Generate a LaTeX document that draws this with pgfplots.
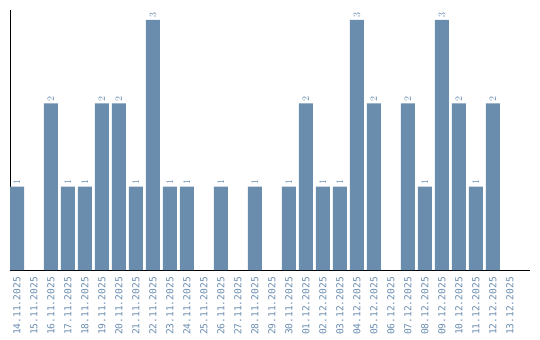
\documentclass[border=0pt]{standalone}
\usepackage{pgfplots}
\pgfplotsset{compat=1.18}
\usepackage{fontspec}
\setmonofont{DejaVu Sans Mono}
\definecolor{barc}{HTML}{6A8CAD}
\definecolor{labc}{HTML}{6A8CAF}
\begin{document}
\begin{tikzpicture}
\path (-10bp,-70bp) rectangle (530bp,270bp);
\begin{axis}[
  at={(0,0)}, anchor=south west,
  scale only axis, width=520bp, height=260bp,
  xmin=-0.412, xmax=30.18, ymin=0, ymax=3.12,
  axis x line*=bottom, axis y line*=left,
  axis line style={-, black, line width=0.8pt},
  ytick=\empty,
  xtick={0,...,29},
  xticklabels={14.11.2025,15.11.2025,16.11.2025,17.11.2025,18.11.2025,19.11.2025,20.11.2025,21.11.2025,22.11.2025,23.11.2025,24.11.2025,25.11.2025,26.11.2025,27.11.2025,28.11.2025,29.11.2025,30.11.2025,01.12.2025,02.12.2025,03.12.2025,04.12.2025,05.12.2025,06.12.2025,07.12.2025,08.12.2025,09.12.2025,10.12.2025,11.12.2025,12.12.2025,13.12.2025},
  major tick length=0pt,
  xtick style={draw=none},
  xticklabel style={rotate=90, anchor=east, inner sep=0pt, xshift=-7bp, text=labc, font=\ttfamily\fontsize{9.6bp}{11bp}\selectfont},
  ybar, bar width=14bp,
  nodes near coords,
  nodes near coords style={rotate=90, anchor=west, inner sep=2bp, text=labc, font=\ttfamily\fontsize{9.6bp}{11bp}\selectfont},
]
\addplot[fill=barc, draw=none] coordinates {
(0,1) (2,2) (3,1) (4,1) (5,2) (6,2) (7,1) (8,3) (9,1) (10,1)
(12,1) (14,1) (16,1) (17,2) (18,1) (19,1) (20,3) (21,2)
(23,2) (24,1) (25,3) (26,2) (27,1) (28,2)
};
\end{axis}
\end{tikzpicture}
\end{document}
